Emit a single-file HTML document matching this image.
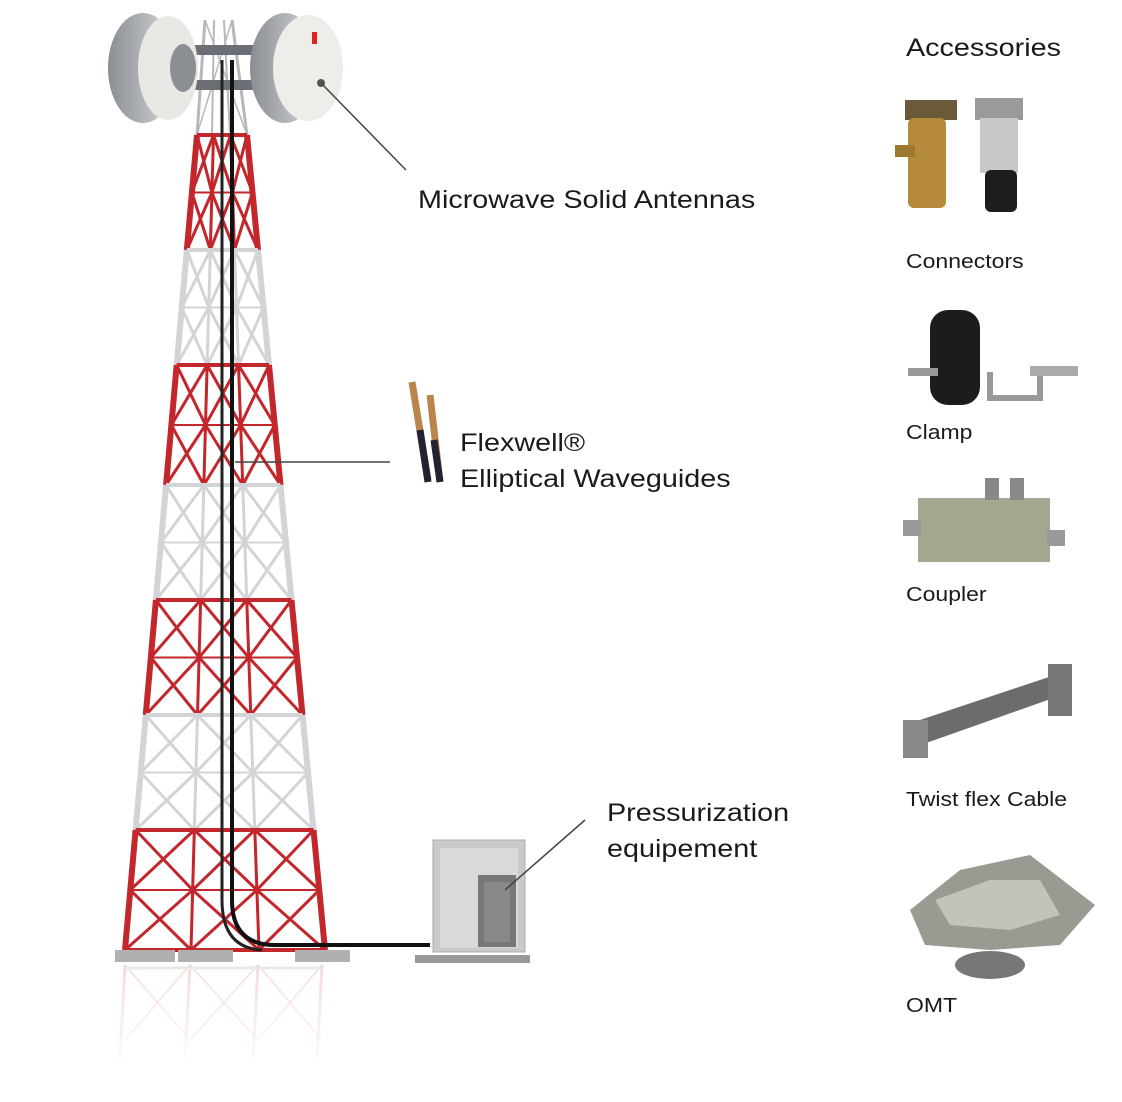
<!DOCTYPE html>
<html><head><meta charset="utf-8"><style>
html,body{margin:0;padding:0;background:#fff;}
#c{position:relative;width:1122px;height:1102px;overflow:hidden;font-family:"Liberation Sans",sans-serif;color:#1a1a1a;}
.t{position:absolute;white-space:nowrap;transform:scaleX(1.15);transform-origin:0 0;}
</style></head><body><div id="c">
<svg id="s" width="1122" height="1102" style="position:absolute;left:0;top:0">
<defs>
<linearGradient id="fade" x1="0" y1="0" x2="0" y2="1"><stop offset="0" stop-color="#fff" stop-opacity="0.3"/><stop offset="1" stop-color="#fff" stop-opacity="1"/></linearGradient>
<linearGradient id="disc" x1="0" y1="0" x2="1" y2="0"><stop offset="0" stop-color="#8a8e94"/><stop offset="0.6" stop-color="#b8bbbf"/><stop offset="1" stop-color="#e8e8e8"/></linearGradient>
</defs>
<g id="tower"></g>
<rect x="170" y="45" width="90" height="10" fill="#6b6f75"/>
<rect x="170" y="80" width="90" height="10" fill="#6b6f75"/>
<ellipse cx="143" cy="68" rx="35" ry="55" fill="url(#disc)"/>
<ellipse cx="168" cy="68" rx="30" ry="52" fill="#e9e7e4"/>
<ellipse cx="183" cy="68" rx="13" ry="24" fill="#8b8f94"/>
<ellipse cx="285" cy="68" rx="35" ry="55" fill="url(#disc)"/>
<ellipse cx="308" cy="68" rx="35" ry="53" fill="#efedea"/>
<rect x="312" y="32" width="5" height="12" fill="#d22"/>
<path d="M232 60 L232 900 Q232 945 275 945 L430 945" stroke="#111" stroke-width="4" fill="none"/>
<path d="M222 60 L222 900 Q222 948 262 950" stroke="#222" stroke-width="3" fill="none"/>
<rect x="115" y="950" width="60" height="12" fill="#b0b0b0"/>
<rect x="178" y="950" width="55" height="12" fill="#b0b0b0"/>
<rect x="295" y="950" width="55" height="12" fill="#b0b0b0"/>
<rect x="415" y="955" width="115" height="8" fill="#999"/>
<rect x="433" y="840" width="92" height="112" fill="#c9c9c9" stroke="#aaa"/>
<rect x="440" y="848" width="78" height="100" fill="#d9d9d9"/>
<rect x="478" y="875" width="38" height="72" fill="#777"/>
<rect x="484" y="882" width="26" height="60" fill="#888"/>
<circle cx="321" cy="83" r="4" fill="#555"/>
<line x1="321" y1="83" x2="406" y2="170" stroke="#444" stroke-width="1.5"/>
<line x1="235" y1="462" x2="390" y2="462" stroke="#444" stroke-width="1.5"/>
<line x1="505" y1="890" x2="585" y2="820" stroke="#444" stroke-width="1.5"/>
<line x1="412" y1="382" x2="428" y2="480" stroke="#b9854a" stroke-width="7"/>
<line x1="430" y1="395" x2="440" y2="482" stroke="#b9854a" stroke-width="7"/>
<line x1="420" y1="430" x2="428" y2="482" stroke="#223" stroke-width="7"/>
<line x1="434" y1="440" x2="440" y2="482" stroke="#223" stroke-width="7"/>
<rect x="905" y="100" width="52" height="20" fill="#6b5a3a"/>
<rect x="908" y="118" width="38" height="90" rx="6" fill="#b58a3a"/>
<rect x="895" y="145" width="20" height="12" fill="#9b7a30"/>
<rect x="975" y="98" width="48" height="22" fill="#9a9a9a"/>
<rect x="980" y="118" width="38" height="55" fill="#c8c8c8"/>
<rect x="985" y="170" width="32" height="42" rx="6" fill="#1d1d1d"/>
<rect x="930" y="310" width="50" height="95" rx="18" fill="#1c1c1c"/>
<rect x="908" y="368" width="30" height="8" fill="#999"/>
<path d="M990 372 L990 398 L1040 398 L1040 372" stroke="#999" stroke-width="6" fill="none"/>
<rect x="1030" y="366" width="48" height="10" fill="#aaa"/>
<rect x="918" y="498" width="132" height="64" fill="#a4a68f"/>
<rect x="985" y="478" width="14" height="22" fill="#888"/>
<rect x="1010" y="478" width="14" height="22" fill="#888"/>
<rect x="903" y="520" width="18" height="16" fill="#999"/>
<rect x="1047" y="530" width="18" height="16" fill="#999"/>
<polygon points="905,725 1055,675 1062,695 912,748" fill="#6c6c6c"/>
<rect x="903" y="720" width="25" height="38" fill="#888"/>
<rect x="1048" y="664" width="24" height="52" fill="#777"/>
<ellipse cx="990" cy="965" rx="35" ry="14" fill="#777"/>
<polygon points="910,910 960,870 1030,855 1095,905 1060,945 990,950 925,945" fill="#9a9a92"/>
<polygon points="935,900 990,880 1040,880 1060,915 1010,930 950,925" fill="#c3c3ba"/>
</svg>
<div class="t" style="left:418px;top:186px;font-size:25px">Microwave Solid Antennas</div>
<div class="t" style="left:460px;top:425px;font-size:25px;line-height:36px">Flexwell®<br>Elliptical Waveguides</div>
<div class="t" style="left:607px;top:795px;font-size:25px;line-height:36px">Pressurization<br>equipement</div>
<div class="t" style="left:906px;top:34px;font-size:25px">Accessories</div>
<div class="t" style="left:906px;top:251px;font-size:20px">Connectors</div>
<div class="t" style="left:906px;top:422px;font-size:20px">Clamp</div>
<div class="t" style="left:906px;top:584px;font-size:20px">Coupler</div>
<div class="t" style="left:906px;top:789px;font-size:20px">Twist flex Cable</div>
<div class="t" style="left:906px;top:995px;font-size:20px">OMT</div>
</div>
<script>
var g=document.getElementById('tower'),ns='http://www.w3.org/2000/svg';
function L(x1,y1,x2,y2,c,w,o){var e=document.createElementNS(ns,'line');e.setAttribute('x1',x1);e.setAttribute('y1',y1);e.setAttribute('x2',x2);e.setAttribute('y2',y2);e.setAttribute('stroke',c);e.setAttribute('stroke-width',w);if(o)e.setAttribute('opacity',o);g.appendChild(e);}
function xl(y){return 197-(y-135)*(72/815);}
function xr(y){return 247+(y-135)*(78/815);}
L(205,20,197,135,'#b5b8bd',3);L(232,20,247,135,'#b5b8bd',3);L(214,20,212,135,'#b5b8bd',2);L(224,20,230,135,'#b5b8bd',2);
L(205,20,247,135,'#b5b8bd',1.5);L(232,20,197,135,'#b5b8bd',1.5);
var b=[135,250,365,485,600,715,830,950];
for(var i=0;i<7;i++){
 var c=i%2==0?'#c3262b':'#d2d4d8',y1=b[i],y2=b[i+1],ym=(y1+y2)/2;
 var p=[0,0.33,0.67,1];
 function X(f,y){return xl(y)+(xr(y)-xl(y))*f;}
 for(var k=0;k<4;k++)L(X(p[k],y1),y1,X(p[k],y2),y2,c,k==0||k==3?6:3);
 L(X(0,y1),y1,X(1,y1),y1,c,4);L(X(0,y2),y2,X(1,y2),y2,c,4);L(X(0,ym),ym,X(1,ym),ym,c,2);
 for(var k=0;k<3;k++){L(X(p[k],y1),y1,X(p[k+1],ym),ym,c,3);L(X(p[k+1],y1),y1,X(p[k],ym),ym,c,3);L(X(p[k],ym),ym,X(p[k+1],y2),y2,c,3);L(X(p[k+1],ym),ym,X(p[k],y2),y2,c,3);}
}
for(var k=0;k<4;k++){var x=[125,190,258,322][k];L(x,965,x-5,1060,'#e7a9a0',3,0.6);}
for(var k=0;k<3;k++){var xa=[125,190,258][k],xb=[190,258,322][k];L(xa,965,xb,1040,'#e7a9a0',2,0.5);L(xb,965,xa,1040,'#e7a9a0',2,0.5);}
L(125,968,322,968,'#ddd',3);
var r=document.createElementNS(ns,'rect');r.setAttribute('x',100);r.setAttribute('y',962);r.setAttribute('width',260);r.setAttribute('height',110);r.setAttribute('fill','url(#fade)');g.appendChild(r);
</script>
</body></html>
